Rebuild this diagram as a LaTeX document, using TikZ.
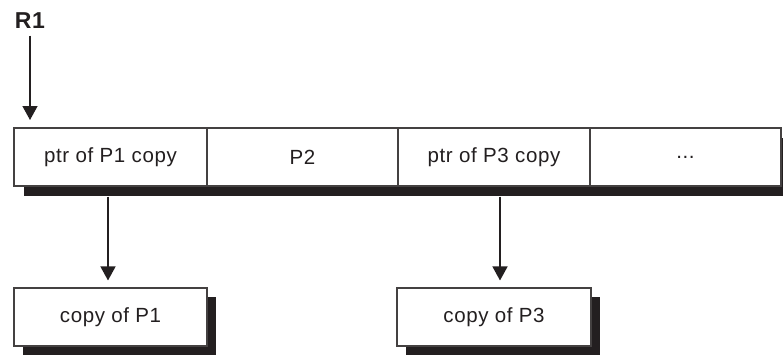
\documentclass[tikz,border=0pt]{standalone}
\usepackage{fontspec}
\setmainfont{Liberation Sans}
\usetikzlibrary{arrows.meta}
\definecolor{ink}{HTML}{231F20}
\tikzset{
  cell/.style={draw=ink!85, line width=1.1pt, fill=white, rectangle, minimum height=58pt, inner sep=0pt,
    font=\fontsize{20.5}{24}\selectfont\addfontfeature{LetterSpace=3}, text=ink},
  shadowfill/.style={fill=ink, draw=none},
  arr/.style={draw=ink, line width=1.4pt, -{Triangle[width=15pt,length=14pt]}},
}
\begin{document}
\begin{tikzpicture}[x=1pt,y=-1pt]
\useasboundingbox (0,0) rectangle (783,354);
\begin{scope}
\clip (0,0) rectangle (783,354);
% shadows
\fill[shadowfill] (24,138) rectangle (795,196);
\fill[shadowfill] (23,297) rectangle (216,360);
\fill[shadowfill] (406,297) rectangle (600,360);
% top row
\node[cell, minimum width=193pt] (c1) at (110.5,157) {ptr of P1 copy};
\node[cell, minimum width=191pt] (c2) at (302.5,157) {P2};
\node[cell, minimum width=192pt] (c3) at (494,157) {ptr of P3 copy};
\node[cell, minimum width=191pt] (c4) at (685.5,157) {...};
% bottom boxes
\node[cell, minimum width=193pt] (b1) at (110.5,317) {copy of P1};
\node[cell, minimum width=194pt] (b2) at (494,317) {copy of P3};
\end{scope}
% R1
\node[font=\fontsize{23}{26}\selectfont\bfseries\addfontfeature{LetterSpace=3}, text=ink, anchor=base] (r1) at (30,28) {R1};
\coordinate (r1t) at (30,120);
\draw[arr] ([yshift=-4pt]r1.south) -- (r1t);
% connectors
\draw[arr] ([xshift=-2.5pt,yshift=-10pt]c1.south) -- ([xshift=-2.5pt,yshift=7pt]b1.north);
\draw[arr] ([xshift=6pt,yshift=-10pt]c3.south) -- ([xshift=6pt,yshift=7pt]b2.north);
\end{tikzpicture}
\end{document}
